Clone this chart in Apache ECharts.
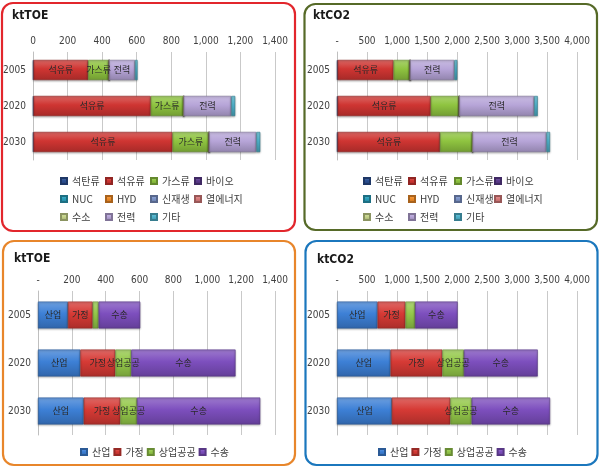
<!DOCTYPE html>
<html>
<head>
<meta charset="utf-8">
<script src="https://cdn.jsdelivr.net/npm/echarts@6/dist/echarts.min.js"></script>
<style>
  html, body { margin: 0; padding: 0; background: #fff; }
  #main { width: 604px; height: 468px; }
</style>
</head>
<body>
<div id="main"></div>
<script>
var years = ['2005', '2020', '2030'];
var fuelNames = ['석탄류', '석유류', '가스류', '바이오', 'NUC', 'HYD', '신재생', '열에너지', '수소', '전력', '기타'];
var sectorNames = ['산업', '가정', '상업공공', '수송'];

// 에너지원별 (ktTOE), 연도별 값 - fuelNames 순서
var toe2005 = [3, 316, 122, 0, 0, 0, 0, 0, 0, 149, 15];
var toe2020 = [3, 678, 191, 0, 0, 0, 0, 0, 0, 275, 23];
var toe2030 = [3, 804, 212, 0, 0, 0, 0, 0, 0, 273, 23];
// 에너지원별 (ktCO2)
var co2_2005 = [10, 932, 277, 0, 0, 0, 0, 0, 0, 737, 49];
var co2_2020 = [10, 1552, 477, 0, 0, 0, 0, 0, 0, 1246, 61];
var co2_2030 = [10, 1707, 543, 0, 0, 0, 0, 0, 0, 1230, 61];
// 부문별 (ktTOE) - sectorNames 순서
var secToe2005 = [177, 146, 35, 246];
var secToe2020 = [250, 207, 94, 616];
var secToe2030 = [270, 216, 99, 728];
// 부문별 (ktCO2)
var secCo2_2005 = [676, 465, 161, 709];
var secCo2_2020 = [892, 864, 360, 1230];
var secCo2_2030 = [914, 975, 355, 1307];

// 축 눈금 라벨
var toeTicksTop = ['0', '200', '400', '600', '800', '1,000', '1,200', '1,400'];
var toeTicksBottom = ['-', '200', '400', '600', '800', '1,000', '1,200', '1,400'];
var co2Ticks = ['-', '500', '1,000', '1,500', '2,000', '2,500', '3,000', '3,500', '4,000'];

var fuelColors = ['#2b4f92', '#cf3532', '#8fc440', '#5c3b8e', '#2a9fbb', '#f08c28',
    '#7d95c9', '#d97c7c', '#c6d48b', '#b7a5d8', '#4fb3cc'];
var sectorColors = ['#3d80d6', '#d63a35', '#94c84a', '#7d4fbe'];

var numFont = '"Liberation Sans Narrow", "DejaVu Sans Condensed", "Liberation Sans", sans-serif';
var krFont = '"Noto Sans CJK KR", sans-serif';

var chartDom = document.getElementById('main');
var myChart = echarts.init(chartDom);

function shade(hex, amt) {
    var n = parseInt(hex.slice(1), 16);
    var r = (n >> 16) & 255, g = (n >> 8) & 255, b = n & 255;
    function f(c) {
        c = amt > 0 ? c + (255 - c) * amt : c * (1 + amt);
        return Math.max(0, Math.min(255, Math.round(c)));
    }
    return 'rgb(' + f(r) + ',' + f(g) + ',' + f(b) + ')';
}

function barFill(c) {
    return new echarts.graphic.LinearGradient(0, 0, 0, 1, [
        { offset: 0, color: shade(c, 0.25) },
        { offset: 0.45, color: c },
        { offset: 1, color: shade(c, -0.2) }
    ]);
}

// 패널 정의
var panels = [
    { title: 'ktTOE', tx: 12, ty: 10, grid: { left: 33, right: 329, top: 52, height: 108 },
      max: 1400, interval: 200, ticks: toeTicksTop, names: fuelNames, colors: fuelColors,
      rows: [toe2005, toe2020, toe2030], labeled: ['석유류', '가스류', '전력'], hide: [],
      barGap: '44%', border: { x: 2, y: 3, w: 293, h: 228, c: '#e2262c' } },
    { title: 'ktCO2', tx: 313, ty: 10, grid: { left: 337, right: 27, top: 52, height: 108 },
      max: 4000, interval: 500, ticks: co2Ticks, names: fuelNames, colors: fuelColors,
      rows: [co2_2005, co2_2020, co2_2030], labeled: ['석유류', '전력'], hide: [],
      barGap: '44%', border: { x: 304.5, y: 4, w: 292.5, h: 226, c: '#566a28' } },
    { title: 'ktTOE', tx: 14, ty: 253, grid: { left: 38, right: 329, top: 291, height: 144 },
      max: 1400, interval: 200, ticks: toeTicksBottom, names: sectorNames, colors: sectorColors,
      rows: [secToe2005, secToe2020, secToe2030], labeled: sectorNames, hide: [],
      barGap: '44%', border: { x: 3, y: 241, w: 292, h: 224, c: '#e8862b' } },
    { title: 'ktCO2', tx: 317, ty: 254, grid: { left: 337, right: 27, top: 291, height: 144 },
      max: 4000, interval: 500, ticks: co2Ticks, names: sectorNames, colors: sectorColors,
      rows: [secCo2_2005, secCo2_2020, secCo2_2030], labeled: sectorNames, hide: [['가정', 2]],
      barGap: '44%', border: { x: 305.5, y: 241, w: 292, h: 224, c: '#1b77bd' } }
];

var grids = [], xAxes = [], yAxes = [], series = [], titles = [], graphics = [];

panels.forEach(function (p, k) {
    grids.push(p.grid);
    xAxes.push({
        type: 'value', gridIndex: k, position: 'top', min: 0, max: p.max, interval: p.interval,
        axisLine: { show: false }, axisTick: { show: false },
        splitLine: { lineStyle: { color: '#c9c9c9', width: 1 } },
        axisLabel: {
            margin: 6, color: '#404040', fontSize: 10, fontFamily: numFont,
            formatter: (function (ticks, iv) {
                return function (v) { return ticks[Math.round(v / iv)]; };
            })(p.ticks, p.interval)
        }
    });
    yAxes.push({
        type: 'category', gridIndex: k, data: years, inverse: true,
        axisLine: { lineStyle: { color: '#bfbfbf' } }, axisTick: { show: false },
        axisLabel: { margin: 7, color: '#404040', fontSize: 10, fontFamily: numFont }
    });
    p.names.forEach(function (name, i) {
        var showLab = p.labeled.indexOf(name) >= 0;
        series.push({
            name: name, type: 'bar', stack: 'p' + k, xAxisIndex: k, yAxisIndex: k,
            barCategoryGap: p.barGap,
            itemStyle: {
                color: barFill(p.colors[i]), borderColor: shade(p.colors[i], -0.3), borderWidth: 0.6,
                shadowColor: 'rgba(0,0,0,0.3)', shadowBlur: 2, shadowOffsetY: 1
            },
            label: {
                show: showLab, position: 'inside', color: '#2a2a2a', fontSize: 9, fontFamily: krFont,
                formatter: function (prm) {
                    for (var h = 0; h < p.hide.length; h++) {
                        if (p.hide[h][0] === name && p.hide[h][1] === prm.dataIndex) return '';
                    }
                    return prm.value / p.max > 0.05 ? name : '';
                }
            },
            data: p.rows.map(function (r) { return r[i]; })
        });
    });
    titles.push({
        text: p.title, left: p.tx, top: p.ty, padding: 0,
        textStyle: { fontSize: 12, fontWeight: 'bold', color: '#1a1a1a', fontFamily: numFont }
    });
    graphics.push({
        type: 'rect', z: 100, silent: true,
        shape: { x: p.border.x, y: p.border.y, width: p.border.w, height: p.border.h, r: 11 },
        style: { fill: 'none', stroke: p.border.c, lineWidth: 2.2 }
    });
});

// 범례: 에너지원은 4열 격자로 항목마다 따로 배치
var legends = [];
var fuelLegendCols = [[60, 105, 150, 194], [363, 408, 454, 494]];
var fuelLegendRows = [176, 194, 212];
fuelLegendCols.forEach(function (cols) {
    fuelNames.forEach(function (name, i) {
        legends.push({
            data: [name], left: cols[i % 4], top: fuelLegendRows[Math.floor(i / 4)], padding: 0,
            itemWidth: 6, itemHeight: 6, icon: 'rect', selectedMode: false,
            textStyle: { fontSize: 10, color: '#404040', fontFamily: krFont }
        });
    });
});
[80, 378].forEach(function (lx) {
    legends.push({
        data: sectorNames, left: lx, top: 447, padding: 0, itemWidth: 6, itemHeight: 6, itemGap: 3,
        icon: 'rect', selectedMode: false,
        textStyle: { fontSize: 10, color: '#404040', fontFamily: krFont }
    });
});

var option = {
    animation: false,
    backgroundColor: '#ffffff',
    title: titles,
    grid: grids,
    xAxis: xAxes,
    yAxis: yAxes,
    legend: legends,
    graphic: graphics,
    series: series
};

myChart.setOption(option);
</script>
</body>
</html>
